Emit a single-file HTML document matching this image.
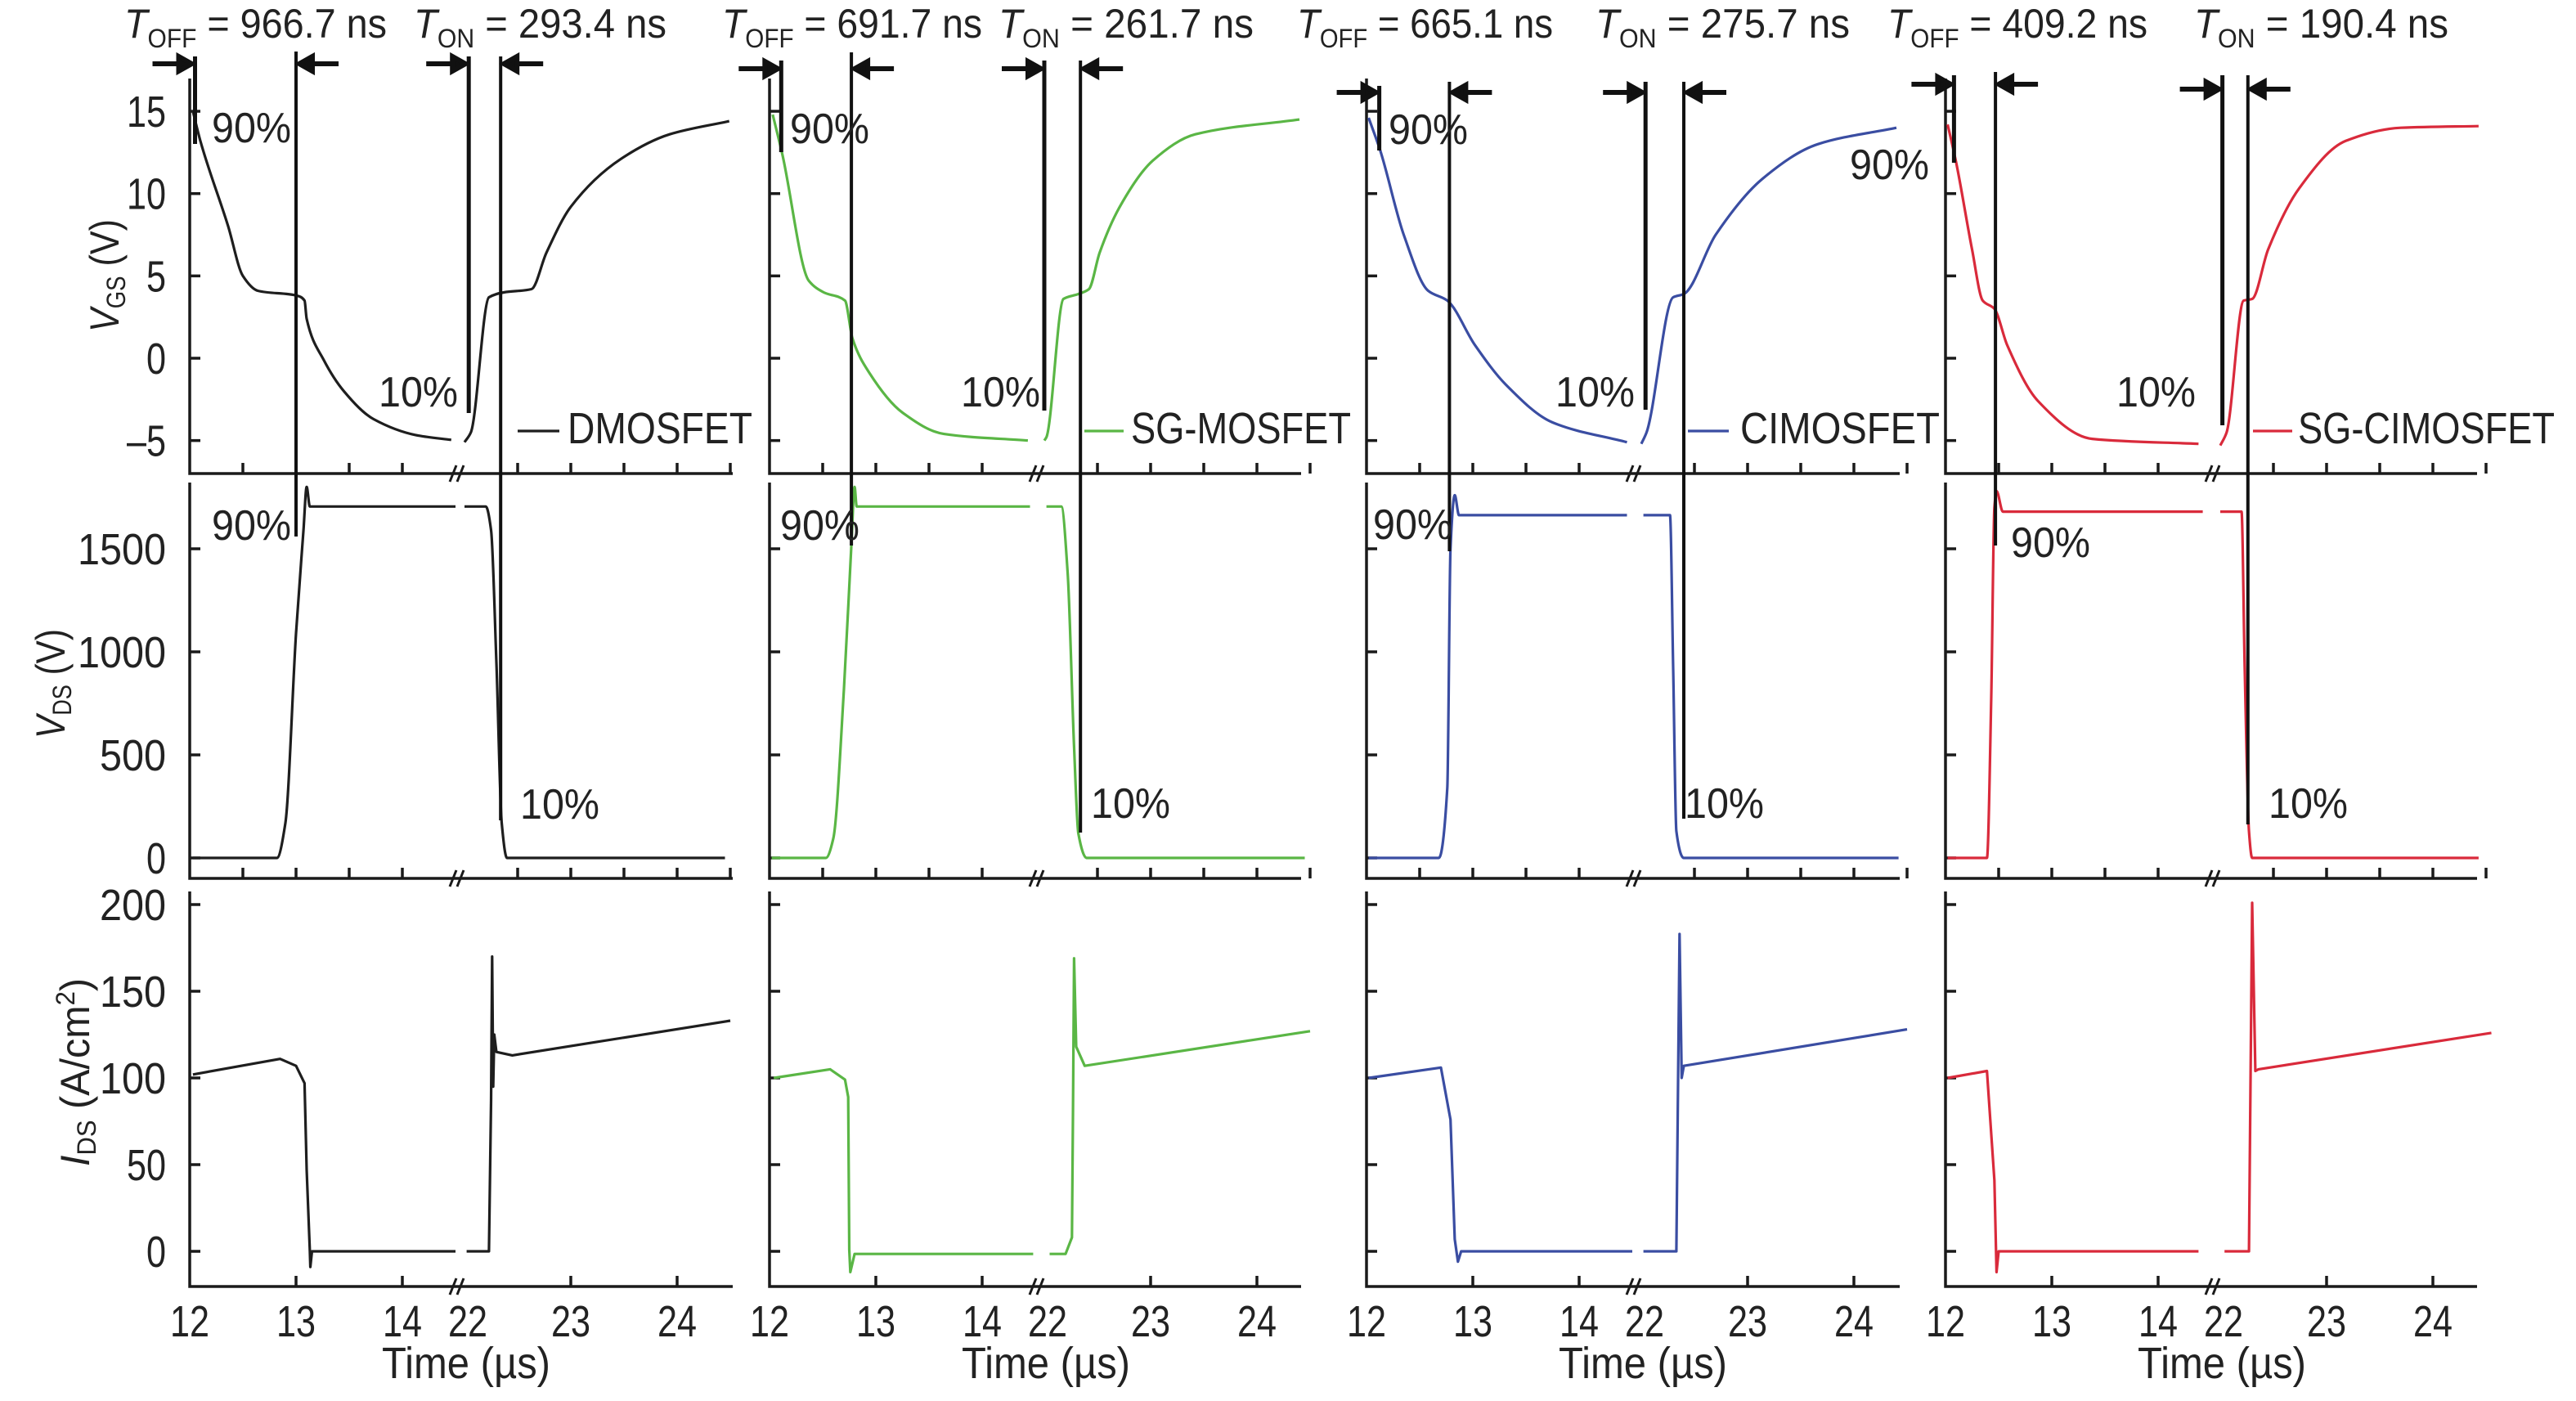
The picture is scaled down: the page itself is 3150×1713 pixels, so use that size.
<!DOCTYPE html>
<html><head><meta charset="utf-8"><style>
html,body{margin:0;padding:0;background:#fff;}
svg{display:block;font-family:"Liberation Sans",sans-serif;}
</style></head><body>
<svg id="fig" width="3150" height="1713" viewBox="0 0 3150 1713">
<g id="texts" fill="#222" font-size="50">
<text x="152" y="46" textLength="321" lengthAdjust="spacingAndGlyphs"><tspan font-style="italic">T</tspan><tspan font-size="32" dy="12">OFF</tspan><tspan dy="-12"> = 966.7 ns</tspan></text>
<text x="506" y="46" textLength="309" lengthAdjust="spacingAndGlyphs"><tspan font-style="italic">T</tspan><tspan font-size="32" dy="12">ON</tspan><tspan dy="-12"> = 293.4 ns</tspan></text>
<text x="883" y="46" textLength="318" lengthAdjust="spacingAndGlyphs"><tspan font-style="italic">T</tspan><tspan font-size="32" dy="12">OFF</tspan><tspan dy="-12"> = 691.7 ns</tspan></text>
<text x="1221" y="46" textLength="312" lengthAdjust="spacingAndGlyphs"><tspan font-style="italic">T</tspan><tspan font-size="32" dy="12">ON</tspan><tspan dy="-12"> = 261.7 ns</tspan></text>
<text x="1586" y="46" textLength="313" lengthAdjust="spacingAndGlyphs"><tspan font-style="italic">T</tspan><tspan font-size="32" dy="12">OFF</tspan><tspan dy="-12"> = 665.1 ns</tspan></text>
<text x="1951" y="46" textLength="311" lengthAdjust="spacingAndGlyphs"><tspan font-style="italic">T</tspan><tspan font-size="32" dy="12">ON</tspan><tspan dy="-12"> = 275.7 ns</tspan></text>
<text x="2308" y="46" textLength="318" lengthAdjust="spacingAndGlyphs"><tspan font-style="italic">T</tspan><tspan font-size="32" dy="12">OFF</tspan><tspan dy="-12"> = 409.2 ns</tspan></text>
<text x="2683" y="46" textLength="311" lengthAdjust="spacingAndGlyphs"><tspan font-style="italic">T</tspan><tspan font-size="32" dy="12">ON</tspan><tspan dy="-12"> = 190.4 ns</tspan></text>

<text transform="translate(145,406) rotate(-90)" textLength="138" lengthAdjust="spacingAndGlyphs"><tspan font-style="italic">V</tspan><tspan font-size="32" dy="8">GS</tspan><tspan dy="-8"> (V)</tspan></text>
<text transform="translate(79,903) rotate(-90)" textLength="134" lengthAdjust="spacingAndGlyphs"><tspan font-style="italic">V</tspan><tspan font-size="32" dy="8">DS</tspan><tspan dy="-8"> (V)</tspan></text>
<text transform="translate(109,1426) rotate(-90)" textLength="230" lengthAdjust="spacingAndGlyphs"><tspan font-style="italic">I</tspan><tspan font-size="32" dy="8">DS</tspan><tspan dy="-8"> (A/cm</tspan><tspan font-size="32" dy="-18">2</tspan><tspan dy="18">)</tspan></text>
</g>
<g id="plot"></g>
</svg>
<script>
// ---- data (time in µs) ----
const deviceNames = ["DMOSFET", "SG-MOSFET", "CIMOSFET", "SG-CIMOSFET"];
const yTicksVgs = [15, 10, 5, 0, -5];
const yTicksVds = [1500, 1000, 500, 0];
const yTicksIds = [200, 150, 100, 50, 0];
const xTickLabels = [12, 13, 14, 22, 23, 24];
const xMinorTicks = [12.5, 13, 13.5, 14, 22.5, 23, 23.5, 24, 24.5];
const xMajorTicks = [13, 14, 23, 24];

// DMOSFET
const dmosGsT = [12.03,12.1,12.36,12.5,12.64,13.01,13.08,13.1,13.26,13.45,13.73,14.15,14.46, 22.0,22.06,22.23,22.37,22.63,22.77,23.0,23.47,23.93,24.49];
const dmosGsV = [15,13.2,8.05,5.0,4.1,3.8,3.5,2.4,-0.1,-2.0,-3.7,-4.7,-4.96, -5.1,-4.5,3.7,4.0,4.2,6.4,9.2,12.1,13.6,14.4];
const dmosDsT = [12.03,12.82,12.9,13.0,13.07,13.1,13.13,14.5, 22.0,22.2,22.25,22.3,22.35,22.4,24.45];
const dmosDsV = [0,0,170,1090,1590,1800,1705,1705, 1705,1705,1590,950,170,0,0];
const dmosIdT = [12.03,12.85,13.0,13.08,13.1,13.13,13.135,13.15,14.5, 22.02,22.23,22.25,22.26,22.27,22.28,22.3,22.45,24.5];
const dmosIdV = [102,111,107,97,47,0,-9,0,0, 0,0,87,170,95,125,115,113,133];
// SG-MOSFET
const sgGsT = [12.03,12.12,12.37,12.51,12.71,12.78,12.94,13.25,13.64,14.43, 22.0,22.02,22.18,22.32,22.42,22.52,22.71,23.02,23.42,24.4];
const sgGsV = [14.8,12.4,4.7,4.0,3.5,1.2,-0.9,-3.3,-4.6,-5.0, -5.0,-4.8,3.6,3.9,4.2,6.4,9.2,12.0,13.6,14.5];
const sgDsT = [12.02,12.53,12.6,12.7,12.77,12.8,12.82,14.45, 22.02,22.16,22.22,22.28,22.32,22.4,24.45];
const sgDsV = [0,0,95,820,1520,1800,1705,1705, 1705,1705,1380,540,120,0,0];
const sgIdT = [12.04,12.57,12.71,12.74,12.75,12.76,12.8,14.48, 22.05,22.2,22.26,22.27,22.28,22.3,22.38,24.5];
const sgIdV = [100,105,99,89,1,-12,-1.5,-1.5, -1.5,-1.5,8,82,169,118,107,127];
// CIMOSFET
const ciGsT = [12.02,12.13,12.35,12.58,12.76,13.02,13.31,13.75,14.45, 22.0,22.05,22.3,22.4,22.7,23.14,23.66,24.4];
const ciGsV = [14.6,12.6,7.5,4.1,3.5,0.8,-1.6,-3.9,-5.1, -5.2,-4.5,3.7,3.9,7.5,10.9,13.0,14.0];
const ciDsT = [12.02,12.68,12.76,12.79,12.83,12.87,14.45, 22.02,22.27,22.3,22.33,22.4,24.42];
const ciDsV = [0,0,340,1500,1760,1663,1663, 1663,1663,920,130,0,0];
const ciIdT = [12.02,12.7,12.79,12.83,12.86,12.89,14.5, 22.02,22.33,22.36,22.38,22.4,24.5];
const ciIdV = [100,106,76,7,-6,0,0, 0,0,183,100,107,128];
// SG-CIMOSFET
const sgciGsT = [12.02,12.1,12.25,12.35,12.46,12.58,12.87,13.38,14.38, 22.0,22.06,22.22,22.3,22.45,22.74,23.18,23.7,24.43];
const sgciGsV = [14.2,11.9,6.6,3.5,3.0,0.8,-2.6,-4.9,-5.2, -5.3,-4.5,3.5,3.6,6.6,10.3,13.2,14.0,14.1];
const sgciDsT = [12.02,12.39,12.43,12.46,12.48,12.54,14.42, 22.0,22.2,22.23,22.27,22.3,24.43];
const sgciDsV = [0,0,770,1700,1780,1680,1680, 1680,1680,920,130,0,0];
const sgciIdT = [12.02,12.39,12.46,12.48,12.5,14.38, 22.04,22.27,22.3,22.33,22.36,24.55];
const sgciIdV = [100,104,41,-12,0,0, 0,0,201,104,105,126];

// measurement markers (times: off start, off end, on start, on end)
const markerT = [[12.05,13.0,22.04,22.34],[12.11,12.77,22.0,22.34],[12.12,12.78,22.04,22.4],[12.08,12.47,22.02,22.26]];

// ---- layout (not data) ----
const colors = ["#1e1e1e", "#5ab645", "#3a4da2", "#d92a3b"];
const lefts = [232, 941, 1671, 2379];
const widths = [664, 650, 652, 650];
const unit = 130, off22 = 336;
const rows = [{top:96,bot:579,y0:438,k:20.13},{top:590,bot:1074,y0:1049,k:0.252},{top:1090,bot:1573,y0:1530,k:2.12}];
const markerY = [[[69,176],[63,656],[69,505],[69,1003],78,78],[[74,186],[64,667],[74,502],[74,1018],84,84],[[105,184],[100,674],[100,501],[100,1001],113,113],[[92,199],[88,667],[92,520],[92,1008],103,109]];
const pctLabels = [
 [[259,174,"90%"],[463,497,"10%"],[259,660,"90%"],[636,1001,"10%"]],
 [[966,175,"90%"],[1175,497,"10%"],[954,660,"90%"],[1334,1000,"10%"]],
 [[1698,176,"90%"],[2262,219,"90%"],[1902,497,"10%"],[1679,659,"90%"],[2060,1000,"10%"]],
 [[2588,497,"10%"],[2459,681,"90%"],[2774,1000,"10%"]]];
const legendPos = [[633,684,694,226],[1326,1374,1383,269],[2064,2114,2128,244],[2755,2803,2810,314]];

const series = [
 [[dmosGsT,dmosGsV],[dmosDsT,dmosDsV],[dmosIdT,dmosIdV]],
 [[sgGsT,sgGsV],[sgDsT,sgDsV],[sgIdT,sgIdV]],
 [[ciGsT,ciGsV],[ciDsT,ciDsV],[ciIdT,ciIdV]],
 [[sgciGsT,sgciGsV],[sgciDsT,sgciDsV],[sgciIdT,sgciIdV]]];

const NS = "http://www.w3.org/2000/svg";
const plot = document.getElementById("plot");
function mk(tag, attrs, parent) {
  const e = document.createElementNS(NS, tag);
  for (const k in attrs) e.setAttribute(k, attrs[k]);
  (parent || plot).appendChild(e);
  return e;
}
function xOf(c, t) { return lefts[c] + (t < 18 ? (t - 12) * unit : off22 + (t - 22) * unit); }
function yOf(r, v) { return rows[r].y0 - v * rows[r].k; }
const ink = "#1a1a1a";

function linePath(px, py) {
  return px.map((x, i) => (i ? "L" : "M") + x.toFixed(1) + "," + py[i].toFixed(1)).join(" ");
}
// monotone cubic (Fritsch-Carlson) path through points
function monoPath(px, py) {
  const n = px.length;
  if (n < 2) return "";
  const d = [], m = new Array(n);
  for (let i = 0; i < n - 1; i++) d.push((py[i+1]-py[i]) / Math.max(px[i+1]-px[i], 1e-6));
  m[0] = d[0]; m[n-1] = d[n-2];
  for (let i = 1; i < n - 1; i++) {
    if (d[i-1] * d[i] <= 0) m[i] = 0;
    else {
      const h0 = px[i]-px[i-1], h1 = px[i+1]-px[i];
      m[i] = 3*(h0+h1) / ((2*h1+h0)/d[i-1] + (h1+2*h0)/d[i]);
    }
  }
  let s = `M${px[0].toFixed(1)},${py[0].toFixed(1)}`;
  for (let i = 0; i < n - 1; i++) {
    const h = px[i+1]-px[i];
    s += ` C${(px[i]+h/3).toFixed(1)},${(py[i]+m[i]*h/3).toFixed(1)} ${(px[i+1]-h/3).toFixed(1)},${(py[i+1]-m[i+1]*h/3).toFixed(1)} ${px[i+1].toFixed(1)},${py[i+1].toFixed(1)}`;
  }
  return s;
}

for (let c = 0; c < 4; c++) {
  const L = lefts[c], W = widths[c];
  const brk = L + 328;
  for (let r = 0; r < 3; r++) {
    const R = rows[r];
    const ax = mk("path", {d:`M${L},${R.top} V${R.bot} H${L+W}`, fill:"none", stroke:ink, "stroke-width":3.5});
    
    
    const ticksY = r === 0 ? yTicksVgs : r === 1 ? yTicksVds : yTicksIds;
    ticksY.forEach(v => {
      const y = yOf(r, v);
      const tk = mk("line", {x1:L, x2:L+13, y1:y, y2:y, stroke:ink, "stroke-width":3.5});
      
      
      if (c === 0) {
        const s = String(v).replace("-", "\u2013");
        const tx = mk("text", {x:203, y:y+19, "text-anchor":"end", "font-size":54, fill:"#222", textLength:s.length*(s.length>2?27:24), lengthAdjust:"spacingAndGlyphs"});
        tx.textContent = s;
        
        
      }
    });
    const xt = r < 2 ? xMinorTicks : xMajorTicks;
    xt.forEach(t => {
      const x = xOf(c, t);
      const tk = mk("line", {x1:x, x2:x, y1:R.bot, y2:R.bot-13, stroke:ink, "stroke-width":3.5});
      
      
    });
    const bm = mk("path", {d:`M${brk-10},${R.bot+10} L${brk-2},${R.bot-10} M${brk-1},${R.bot+10} L${brk+7},${R.bot-10}`, stroke:ink, "stroke-width":3, fill:"none"});
    
    
    const [ts, vs] = series[c][r];
    const pathFn = r === 2 ? linePath : monoPath;
    let d = "";
    let sx = [], sy = [];
    for (let i = 0; i < ts.length; i++) {
      if (i > 0 && ts[i-1] < 18 && ts[i] >= 18) { d += pathFn(sx, sy) + " "; sx = []; sy = []; }
      sx.push(xOf(c, ts[i])); sy.push(yOf(r, vs[i]));
    }
    d += pathFn(sx, sy);
    const ln = mk("path", {d:d, fill:"none", stroke:colors[c], "stroke-width":3.2, "stroke-linejoin":"round"});
    
    
  }
  xTickLabels.forEach(t => {
    const tx = mk("text", {x:xOf(c, t) + (t===22?4:0), y:1634, "text-anchor":"middle", "font-size":54, fill:"#222", textLength:48, lengthAdjust:"spacingAndGlyphs"});
    tx.textContent = t;
    
    
  });
  const tl = mk("text", {x:L+338, y:1685, "text-anchor":"middle", "font-size":54, fill:"#222", textLength:206, lengthAdjust:"spacingAndGlyphs"});
  tl.textContent = "Time (\u00b5s)";
  
  
  const my = markerY[c];
  markerT[c].forEach((t, i) => {
    const x = xOf(c, t);
    const m = mk("line", {x1:x, x2:x, y1:my[i][0], y2:my[i][1], stroke:"#111", "stroke-width":(i===0||i===2)?5:4});
    
    
    const ay = i < 2 ? my[4] : my[5];
    const dir = (i % 2 === 0) ? 1 : -1;
    const tip = x - dir * 4;
    const tail = tip - dir * 48;
    const ar = mk("path", {d:`M${tail},${ay} L${tip-dir*14},${ay} M${tip},${ay} L${tip-dir*16},${ay-9} L${tip-dir*16},${ay+9} Z`, stroke:"#111", "stroke-width":6, fill:"#111"});
    
    
  });
  pctLabels[c].forEach(p => {
    const tx = mk("text", {x:p[0], y:p[1], "font-size":52, fill:"#222", textLength:97, lengthAdjust:"spacingAndGlyphs"});
    tx.textContent = p[2];
    
    
  });
  const lp = legendPos[c];
  const lg = mk("line", {x1:lp[0], x2:lp[1], y1:527, y2:527, stroke:colors[c], "stroke-width":3.2});
  
  
  const lt = mk("text", {x:lp[2], y:542, "font-size":54, fill:"#222", textLength:lp[3], lengthAdjust:"spacingAndGlyphs"});
  lt.textContent = deviceNames[c];
  
  
}
</script>
</body></html>
